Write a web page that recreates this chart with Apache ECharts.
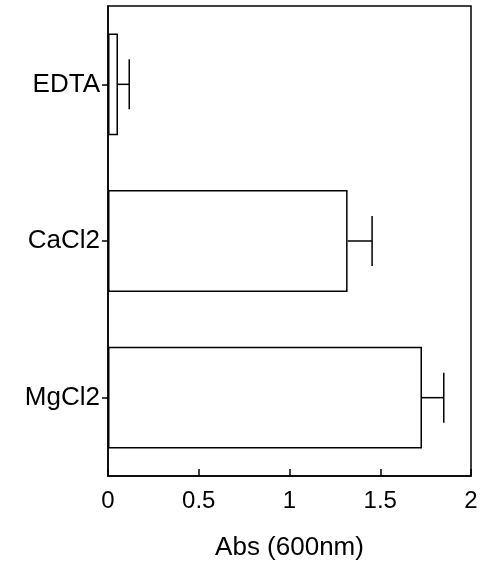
<!DOCTYPE html>
<html>
<head>
<meta charset="utf-8">
<script src="https://cdn.jsdelivr.net/npm/echarts@6/dist/echarts.min.js"></script>
<style>
  html, body { margin: 0; padding: 0; background: #fff; }
  #chart { width: 501px; height: 568px; }
</style>
</head>
<body>
<div id="chart"></div>
<script>
// data
var categories = ['EDTA', 'CaCl2', 'MgCl2'];
var absValues = [0.055, 1.32, 1.73];
var absErrors = [0.062, 0.135, 0.12];
var xTicks = [0, 0.5, 1, 1.5, 2];

var FONT = 'Liberation Sans, Arial, sans-serif';

var errData = categories.map(function (c, i) {
  return [i, absValues[i], absValues[i] + absErrors[i]];
});

var chart = echarts.init(document.getElementById('chart'));
chart.setOption({
  animation: false,
  backgroundColor: '#fff',
  grid: {
    left: 108, right: 30, top: 6, bottom: 92,
    show: true, borderColor: '#000', borderWidth: 1.5,
    backgroundColor: 'transparent'
  },
  xAxis: {
    type: 'value',
    min: xTicks[0],
    max: xTicks[xTicks.length - 1],
    interval: 0.5,
    name: 'Abs (600nm)',
    nameLocation: 'middle',
    nameGap: 59,
    nameTextStyle: { color: '#000', fontSize: 26, fontFamily: FONT },
    axisLine: { show: true, lineStyle: { color: '#000', width: 1.5 } },
    axisTick: { show: true, inside: true, length: 7, lineStyle: { color: '#000', width: 1.5 } },
    axisLabel: { color: '#000', fontSize: 24, fontFamily: FONT, margin: 13 },
    splitLine: { show: false }
  },
  yAxis: {
    type: 'category',
    data: categories,
    inverse: true,
    axisLine: { show: true, lineStyle: { color: '#000', width: 1.5 } },
    axisTick: { show: true, alignWithLabel: true, length: 6, lineStyle: { color: '#000', width: 1.5 } },
    axisLabel: { color: '#000', fontSize: 26, fontFamily: FONT, margin: 8 },
    splitLine: { show: false }
  },
  series: [
    {
      type: 'bar',
      data: absValues,
      barWidth: '65%',
      itemStyle: { color: '#fff', borderColor: '#000', borderWidth: 1.5 }
    },
    {
      type: 'custom',
      data: errData,
      z: 5,
      renderItem: function (params, api) {
        var base = api.coord([api.value(1), api.value(0)]);
        var end = api.coord([api.value(2), api.value(0)]);
        var half = 25;
        var style = { stroke: '#000', lineWidth: 1.5 };
        return {
          type: 'group',
          children: [
            { type: 'line', shape: { x1: base[0], y1: base[1], x2: end[0], y2: end[1] }, style: style },
            { type: 'line', shape: { x1: end[0], y1: end[1] - half, x2: end[0], y2: end[1] + half }, style: style }
          ]
        };
      }
    }
  ]
});
</script>
</body>
</html>
